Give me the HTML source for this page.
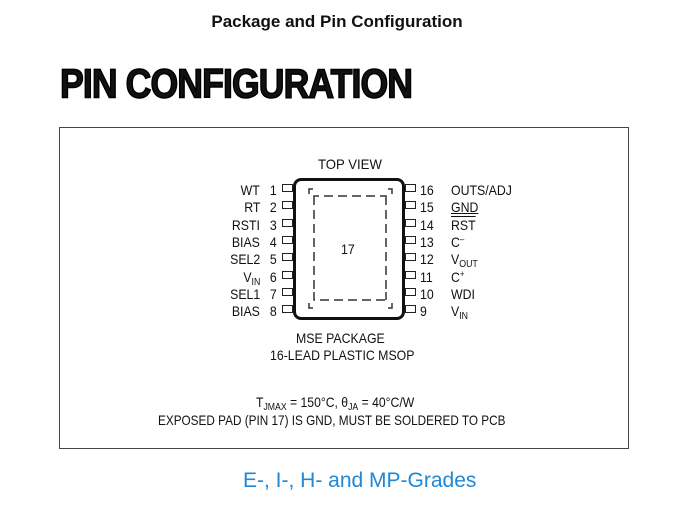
<!DOCTYPE html>
<html><head><style>
body{margin:0;width:674px;height:506px;background:#fff;position:relative;overflow:hidden;font-family:"Liberation Sans",sans-serif;color:#111}
.a{position:absolute;white-space:nowrap}
.pl{position:absolute;width:11px;height:8px;border:1px solid #222;box-sizing:border-box}
.t{font-size:14px;line-height:14px;transform:scaleX(0.88);transform-origin:0 0}
.r{transform-origin:100% 0;text-align:right}
sub{font-size:10px;position:relative;top:3px;vertical-align:baseline;line-height:0}
sup{font-size:9px;position:relative;top:-5px;vertical-align:baseline;line-height:0}
</style></head><body>
<div class="a" style="left:0;width:674px;top:12px;text-align:center;font-weight:bold;font-size:17px">Package and Pin Configuration</div>
<div class="a" style="left:60px;top:62px;font-weight:900;font-size:40px;letter-spacing:-1px;transform:scaleX(0.89) scaleY(1.02);transform-origin:0 0;-webkit-text-stroke:1.5px #000">PIN CONFIGURATION</div>
<div class="a" style="left:59px;top:127px;width:570px;height:322px;border:1px solid #444;box-sizing:border-box"></div>
<div class="a t" style="left:318px;top:157px;transform:scaleX(0.94)">TOP VIEW</div>
<div class="a" style="left:293px;top:178px;width:112px;height:142px;border:3px solid #111;border-radius:8px;box-sizing:border-box"></div>
<svg class="a" style="left:0;top:0" width="674" height="506">
<g fill="none" stroke="#333" stroke-width="1.5" stroke-dasharray="9,5">
<path d="M309 194 V189 H314 M314 200 V196 H386 V200 M392 194 V189 H386 M314 196 V300 M386 196 V300 M314 292 V300 H386 V292 M309 303 V308 H314 M392 303 V308 H386"/>
</g></svg>
<div class="a t" style="left:341px;top:242px">17</div>
<div id="p"></div>
<div class="a t" style="left:296px;top:331px">MSE PACKAGE</div>
<div class="a t" style="left:270px;top:348px">16-LEAD PLASTIC MSOP</div>
<div class="a t" style="left:256px;top:395px;transform:scaleX(0.87)">T<sub>JMAX</sub> = 150°C, θ<sub>JA</sub> = 40°C/W</div>
<div class="a t" style="left:158px;top:413px;transform:scaleX(0.84)">EXPOSED PAD (PIN 17) IS GND, MUST BE SOLDERED TO PCB</div>
<div class="a" style="left:243px;top:469px;font-size:21px;color:#1e88d6">E-, I-, H- and MP-Grades</div>
<script>
var L=["WT","RT","RSTI","BIAS","SEL2","V<sub>IN</sub>","SEL1","BIAS"];
var R=["OUTS/ADJ","<u>GND</u>","<span style='text-decoration:overline'>RST</span>","C<sup>–</sup>","V<sub>OUT</sub>","C<sup>+</sup>","WDI","V<sub>IN</sub>"];
var h="";
for(var i=0;i<8;i++){var y=183+i*17.3;
h+='<div class="pl" style="left:282px;top:'+(y+1)+'px"></div>';
h+='<div class="pl" style="left:405px;top:'+(y+1)+'px"></div>';
h+='<div class="a t r" style="right:'+(674-260)+'px;top:'+y+'px">'+L[i]+'</div>';
h+='<div class="a t r" style="right:'+(674-277)+'px;top:'+y+'px">'+(i+1)+'</div>';
h+='<div class="a t" style="left:'+(16-i<10?420:420)+'px;top:'+y+'px">'+(16-i)+'</div>';
h+='<div class="a t" style="left:451px;top:'+y+'px">'+R[i]+'</div>';}
document.getElementById("p").innerHTML=h;
</script>
</body></html>
